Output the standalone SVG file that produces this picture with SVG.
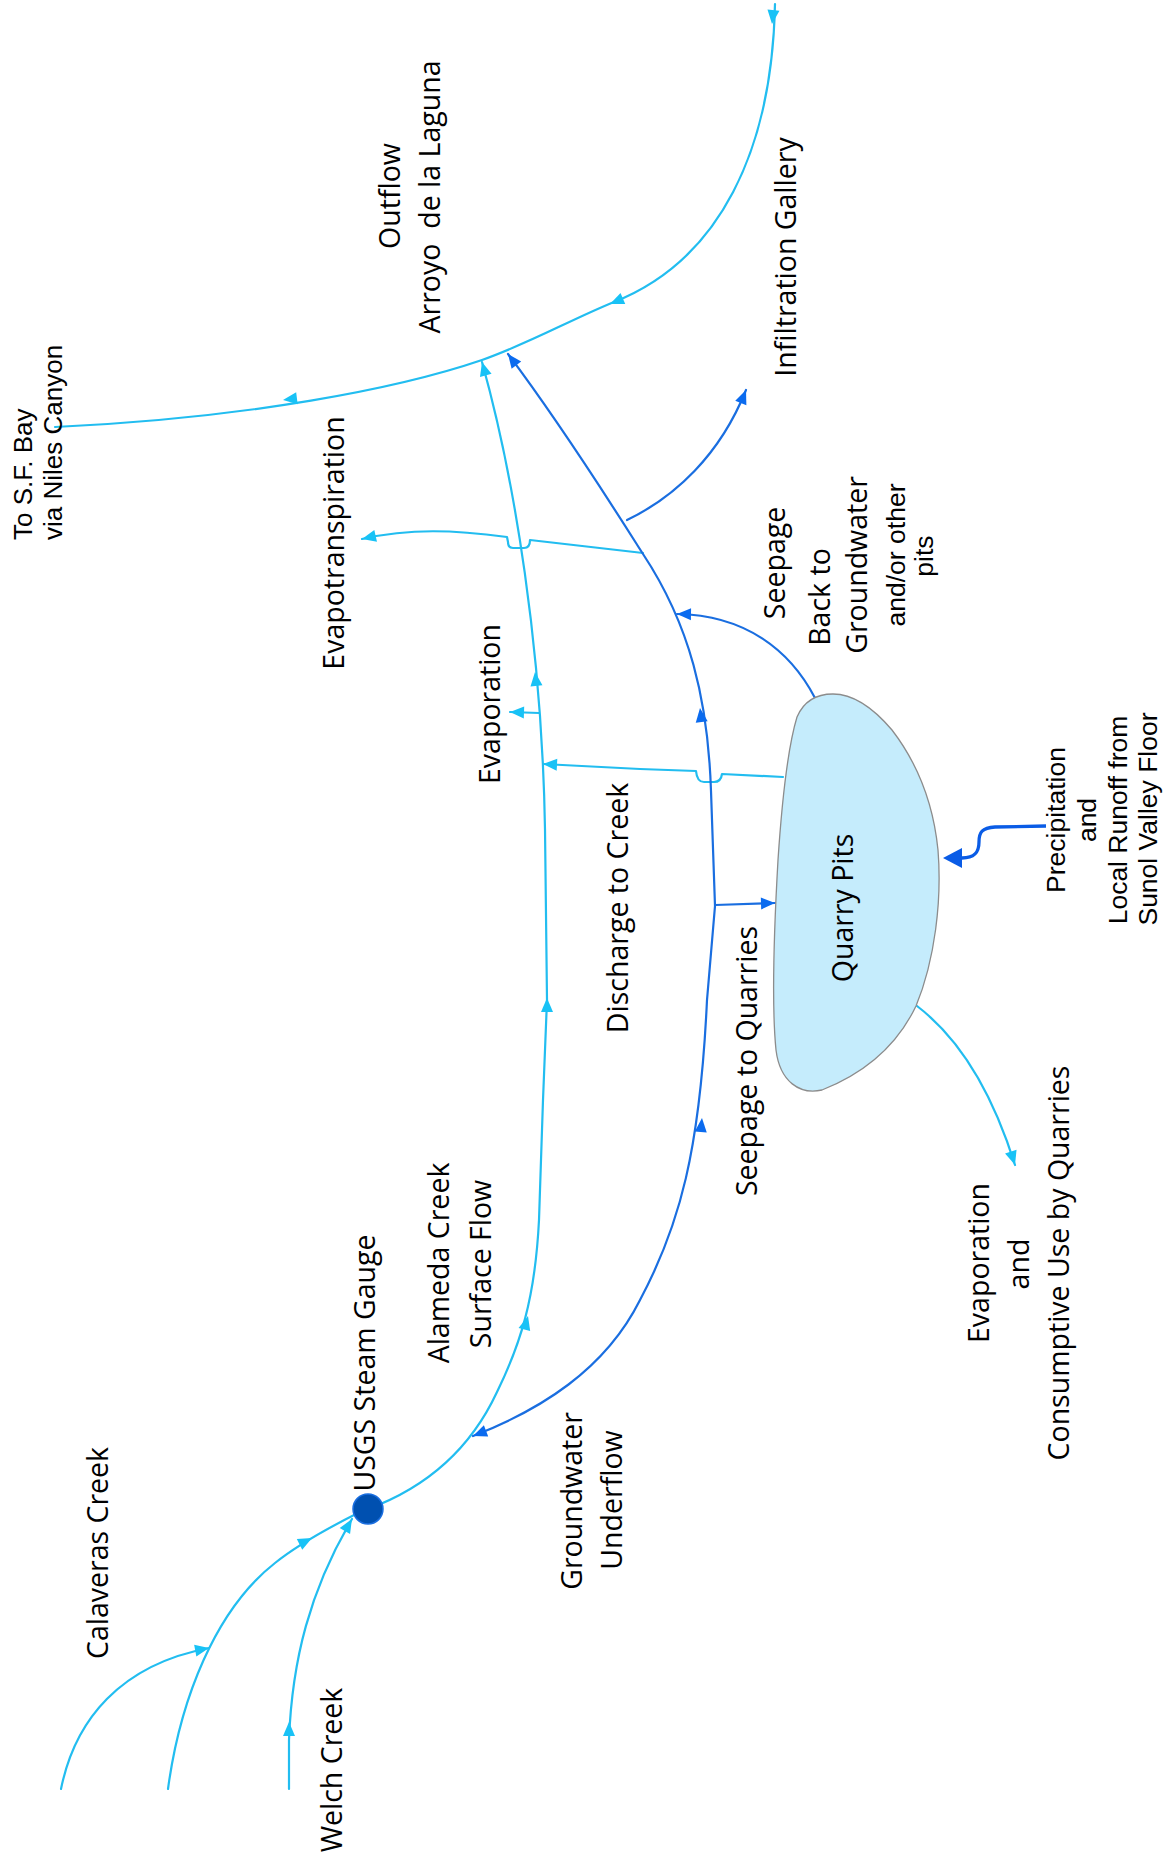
<svg xmlns="http://www.w3.org/2000/svg" xmlns:xlink="http://www.w3.org/1999/xlink" width="1164" height="1864" viewBox="0 0 1164 1864">
<style>
.bg{fill:#ffffff}
.lt{fill:none;stroke:#22bdf0;stroke-width:2.2;stroke-linejoin:round;stroke-linecap:round}
.dk{fill:none;stroke:#1a6ee0;stroke-width:2.2;stroke-linejoin:round;stroke-linecap:round}
.ahl{fill:#18c2f6}
.ahd{fill:#0b6bef}
.t{font-family:"Open Sans","Noto Sans",sans-serif;font-size:28.5px;fill:#000;text-anchor:middle}
.a{font-family:"Liberation Sans",Arial,sans-serif;font-size:26.5px;fill:#000;text-anchor:middle}
.as{font-family:"Liberation Sans",Arial,sans-serif;font-size:26px;fill:#000;text-anchor:start}
</style>
<defs>
<path id="ah" d="M0,0 L-14,-6 L-14,6 Z"/>
<marker id="mL" viewBox="-15 -7 16 14" markerWidth="16" markerHeight="14" refX="0" refY="0" orient="auto" markerUnits="userSpaceOnUse"><path d="M0,0 L-14,-6 L-14,6 Z" fill="#18c2f6"/></marker>
<marker id="mD" viewBox="-15 -7 16 14" markerWidth="16" markerHeight="14" refX="0" refY="0" orient="auto-start-reverse" markerUnits="userSpaceOnUse"><path d="M0,0 L-14,-6 L-14,6 Z" fill="#0b6bef"/></marker>
</defs>
<rect class="bg" x="0" y="0" width="1164" height="1864"/>

<g id="connectors">
  <!-- main river and outflow -->
  <path class="lt" d="M775,4 C772,150 720,260 614,302 C570,320 530,343 482,360 C400,388 250,418 55,427"/>
  <!-- Alameda Creek surface flow -->
  <path class="lt" marker-end="url(#mL)" d="M368,1509 C425,1488 470,1450 497,1392 C520,1345 535,1300 539,1220 L543,1100 L547,1000 L545,829 C542,650 515,480 482,362"/>
  <!-- Calaveras A -->
  <path class="lt" marker-end="url(#mL)" d="M61,1789 C75,1720 120,1665 209,1648"/>
  <!-- Calaveras B -->
  <path class="lt" d="M168,1789 C180,1700 215,1610 275,1563 C300,1543 330,1527 360,1512"/>
  <!-- Welch -->
  <path class="lt" marker-end="url(#mL)" d="M289,1789 L289,1740 C292,1660 310,1590 352,1519"/>
  <!-- Evapotranspiration -->
  <path class="lt" marker-end="url(#mL)" d="M643,553 L530,540 Q530,548 524,548 L513,548 Q508,548 508,542 L507,537 C455,530 410,528 362,539"/>
  <!-- Evaporation small -->
  <path class="lt" marker-end="url(#mL)" d="M539,713 L510,712"/>
  <!-- Discharge to creek -->
  <path class="lt" marker-end="url(#mL)" d="M783,777 L722,774 Q721,782 714,782 L704,782 Q697,782 696,771 L640,769 L543,764"/>
  <!-- Evaporation and consumptive use -->
  <path class="lt" marker-end="url(#mL)" d="M917,1006 C955,1035 990,1085 1015,1165"/>
  <!-- Groundwater underflow -->
  <path class="dk" marker-start="url(#mD)" marker-end="url(#mD)" d="M473,1436 C540,1410 605,1370 640,1300 C680,1225 700,1150 707,1000 L715,906 L711,791 C708,700 690,625 643,554 C615,510 565,430 508,354"/>
  <!-- Infiltration gallery -->
  <path class="dk" marker-end="url(#mD)" d="M627,520 C675,497 720,455 746,390"/>
  <!-- Seepage back -->
  <path class="dk" marker-end="url(#mD)" d="M815,698 C790,650 745,615 677,614"/>
  <!-- Seepage to quarries -->
  <path class="dk" marker-end="url(#mD)" d="M715,905 L775,903"/>
  <!-- Precipitation -->
  <path fill="none" stroke="#0a5ce6" stroke-width="3.3" stroke-linejoin="round" d="M1046,826 L995,827 C982,828 979,832 979,842 C979,852 975,858 962,858 L956,858"/>
  <path fill="#0a5ce6" d="M943,858 L962,848 L962,868 Z"/>

  <!-- mid arrows light -->
  <use xlink:href="#ah" class="ahl" transform="translate(772,24) rotate(96)"/>
  <use xlink:href="#ah" class="ahl" transform="translate(610,304) rotate(157)"/>
  <use xlink:href="#ah" class="ahl" transform="translate(283,400) rotate(173)"/>
  <use xlink:href="#ah" class="ahl" transform="translate(535,672) rotate(-96)"/>
  <use xlink:href="#ah" class="ahl" transform="translate(547,998) rotate(-90)"/>
  <use xlink:href="#ah" class="ahl" transform="translate(528,1316) rotate(-75)"/>
  <use xlink:href="#ah" class="ahl" transform="translate(312,1538) rotate(-27)"/>
  <use xlink:href="#ah" class="ahl" transform="translate(289,1722) rotate(-90)"/>
  <!-- mid arrows dark -->
  <use xlink:href="#ah" class="ahd" transform="translate(702,1118) rotate(-85)"/>
  <use xlink:href="#ah" class="ahd" transform="translate(700,708) rotate(-97)"/>
</g>

<g id="quarry-pits">
  <path fill="#c5ecfc" stroke="#8c8c8c" stroke-width="1.3" d="M833,694 C855,694 875,710 892,730 C915,760 933,800 938,850 C942,900 935,960 916,1006 C895,1050 860,1075 822,1090 C800,1095 780,1082 776,1050 C772,1010 774,930 778,860 C782,800 787,750 797,717 C803,703 815,694 833,694 Z"/>
  <text class="t" transform="translate(853,908) rotate(-90)">Quarry Pits</text>
</g>

<g id="usgs-gauge">
  <circle cx="368" cy="1509" r="15" fill="#0050b0" stroke="#1a6ee0" stroke-width="1.5"/>
  <text class="t" transform="translate(375,1363) rotate(-90)">USGS Steam Gauge</text>
</g>

<g id="label-sf-bay">
  <text class="as" transform="translate(32,540) rotate(-90)">To S.F. Bay</text>
  <text class="as" transform="translate(62,540) rotate(-90)">via Niles Canyon</text>
</g>
<g id="label-outflow">
  <text class="t" transform="translate(400,196) rotate(-90)">Outflow</text>
  <text class="t" transform="translate(440,197) rotate(-90)">Arroyo&#160; de la Laguna</text>
</g>
<g id="label-infiltration">
  <text class="t" transform="translate(796,257) rotate(-90)">Infiltration Gallery</text>
</g>
<g id="label-evapotranspiration">
  <text class="t" transform="translate(344,543) rotate(-90)">Evapotranspiration</text>
</g>
<g id="label-evaporation">
  <text class="t" transform="translate(500,704) rotate(-90)">Evaporation</text>
</g>
<g id="label-discharge">
  <text class="t" transform="translate(628,908) rotate(-90)">Discharge to Creek</text>
</g>
<g id="label-seepage-quarries">
  <text class="t" transform="translate(757,1061) rotate(-90)">Seepage to Quarries</text>
</g>
<g id="label-seepage-back">
  <text class="t" transform="translate(785,563) rotate(-90)">Seepage</text>
  <text class="t" transform="translate(830,597) rotate(-90)">Back to</text>
  <text class="t" transform="translate(867,565) rotate(-90)">Groundwater</text>
  <text class="a" transform="translate(905,555) rotate(-90)">and/or other</text>
  <text class="a" transform="translate(933,556) rotate(-90)">pits</text>
</g>
<g id="label-precipitation">
  <text class="a" transform="translate(1065,820) rotate(-90)">Precipitation</text>
  <text class="a" transform="translate(1096,820) rotate(-90)">and</text>
  <text class="a" transform="translate(1127,820) rotate(-90)">Local Runoff from</text>
  <text class="a" transform="translate(1157,819) rotate(-90)">Sunol Valley Floor</text>
</g>
<g id="label-evap-consumptive">
  <text class="t" transform="translate(989,1263) rotate(-90)">Evaporation</text>
  <text class="t" transform="translate(1029,1264) rotate(-90)">and</text>
  <text class="t" transform="translate(1069,1263) rotate(-90)">Consumptive Use by Quarries</text>
</g>
<g id="label-calaveras">
  <text class="t" transform="translate(108,1553) rotate(-90)">Calaveras Creek</text>
</g>
<g id="label-welch">
  <text class="t" transform="translate(342,1770) rotate(-90)">Welch Creek</text>
</g>
<g id="label-alameda">
  <text class="t" transform="translate(449,1263) rotate(-90)">Alameda Creek</text>
  <text class="t" transform="translate(491,1264) rotate(-90)">Surface Flow</text>
</g>
<g id="label-underflow">
  <text class="t" transform="translate(582,1501) rotate(-90)">Groundwater</text>
  <text class="t" transform="translate(622,1500) rotate(-90)">Underflow</text>
</g>
</svg>
